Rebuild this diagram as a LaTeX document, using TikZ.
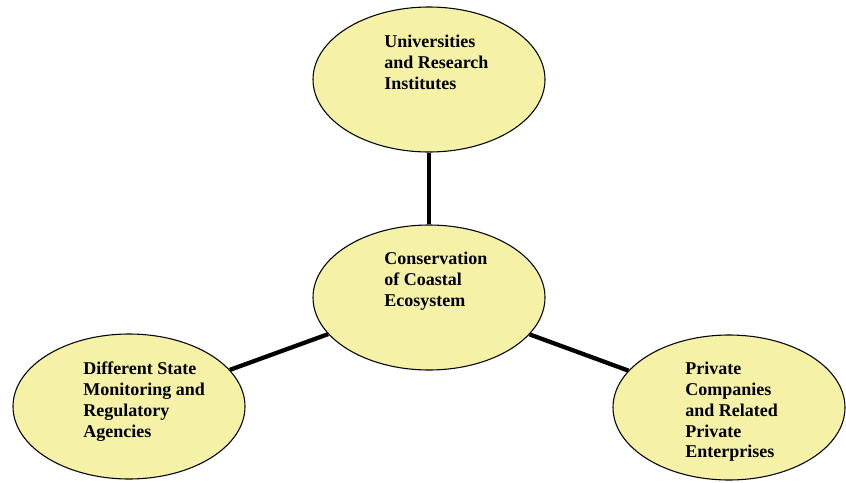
\documentclass[tikz,border=0pt]{standalone}
\usepackage{fontspec}
\setmainfont{Liberation Serif}
\usetikzlibrary{shapes.geometric}
\definecolor{blobfill}{RGB}{245,241,166}
\tikzset{
  blob/.style={ellipse, draw=black, line width=0.8pt, fill=blobfill,
    minimum width=174pt, minimum height=108.75pt, inner sep=0pt},
  txt/.style={anchor=north west, align=left, inner sep=0pt,
    font=\fontsize{13.5pt}{15.6pt}\selectfont\bfseries},
  link/.style={line width=3.2pt, draw=black}
}
\begin{document}
\begin{tikzpicture}[x=0.75pt, y=-0.75pt]
  \useasboundingbox (0,0) rectangle (846,482);
  % ellipses
  \node[blob] (univ) at (429,79.5) {};
  \node[blob] (core) at (429,297.5) {};
  \node[blob] (state) at (129,406.5) {};
  \node[blob] (priv) at (729,407.5) {};
  % connectors between the centre and the three partners
  \draw[link] (core) -- (univ);
  \draw[link] (core) -- (state);
  \draw[link] (core) -- (priv);
  % labels
  \node[txt] (univtxt) at (384,35) {Universities\\and Research\\Institutes};
  \node[txt] (coretxt) at (384,252) {Conservation\\of Coastal\\Ecosystem};
  \node[txt] (statetxt) at (83,362) {Different State\\Monitoring and\\Regulatory\\Agencies};
  \node[txt] (privtxt) at (685,362) {Private\\Companies\\and Related\\Private\\Enterprises};
\end{tikzpicture}
\end{document}
